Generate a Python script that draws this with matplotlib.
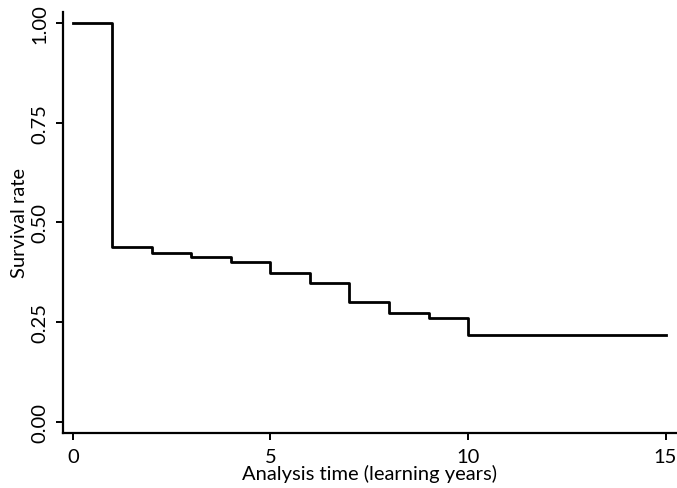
import numpy as np
import matplotlib
matplotlib.use("Agg")
from matplotlib import pyplot as plt

# Kaplan-Meier step values
times = [0, 1, 2, 3, 4, 5, 6, 7, 8, 9, 10, 15]
survival = [1.0, 0.438, 0.424, 0.413, 0.400, 0.373, 0.348, 0.300, 0.272, 0.261, 0.218, 0.218]

x_ticks = [0, 5, 10, 15]
y_ticks = [0.0, 0.25, 0.5, 0.75, 1.0]
y_labels = ['0.00', '0.25', '0.50', '0.75', '1.00']

plt.rcParams.update({'font.family': ['Lato', 'DejaVu Sans'], 'font.size': 14.5})

fig = plt.figure(figsize=(6.77, 4.89), dpi=100)
ax = fig.add_axes([0.0926, 0.1125, 0.9074, 0.861])

ax.step(times, survival, where='post', color='black', lw=2.0)

ax.set_xlim(-0.26, 15.29)
ax.set_ylim(-0.0276, 1.0276)
for spine in ['right', 'top']:
    ax.spines[spine].set_visible(False)
for spine in ['left', 'bottom']:
    ax.spines[spine].set_linewidth(1.6)

ax.set_xticks(x_ticks)
ax.set_yticks(y_ticks)
ax.set_yticklabels(y_labels, rotation=90, va='center')
ax.tick_params(axis='both', length=5, width=1.4, color='black')
ax.tick_params(axis='x', pad=6)
ax.tick_params(axis='y', pad=5)

ax.set_xlabel('Analysis time (learning years)', labelpad=-1)
ax.set_ylabel('Survival rate', labelpad=3)

plt.savefig('out.png', dpi=100)
